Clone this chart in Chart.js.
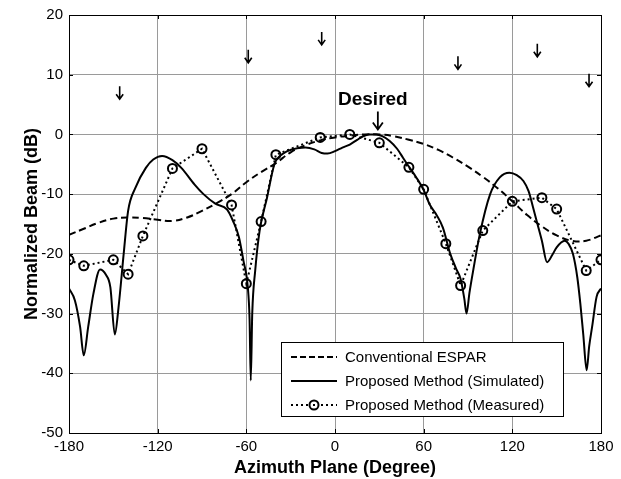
<!DOCTYPE html>
<html>
<head>
<meta charset="utf-8">
<script src="https://cdn.jsdelivr.net/npm/chart.js@4.4.1/dist/chart.umd.min.js"></script>
<style>
    body{
        margin:0;
        background:#fff;
    }
    #wrap{
        width:621px;
        height:479px;
    }
</style>
</head>
<body>
<div id="wrap"><canvas id="chartjs" width="621" height="479"></canvas></div>

<script>
// ---- data ----
var espAngles = [-180,-170,-160,-150,-140,-130,-120,-110,-100,-90,-80,-70,-60,-50,-40,-30,-20,-10,0,
                 10,20,30,40,50,60,70,80,90,100,110,120,130,140,150,160,170,180];
var espBeam   = [-16.8,-15.8,-14.8,-14.1,-13.9,-14.0,-14.3,-14.5,-13.9,-12.8,-11.5,-10.0,-8.0,-6.3,-4.8,-3.0,-1.8,-1.0,-0.5,
                 -0.2,0,0,-0.3,-0.9,-1.6,-2.6,-3.9,-5.4,-7.1,-9.0,-11.2,-13.5,-15.4,-16.9,-17.8,-17.8,-16.9];

var simAngles = [-180,-176,-172.5,-170,-167,-163.5,-159,-155,-152,-149,-146.5,-143,-140,-135,-128,-123,-117,-110,-104,
                 -95,-89,-81,-73,-69,-65,-62,-59,-57.8,-57,-56,-54,-51,-46,-41,-35,-29,-20,-14,-9,-5,
                 0,5,10,15,19,23,28,32,37,42,46,50,55,60,64,69,73,78,82,85,87.5,89,91,93.5,98,105,111.5,
                 118,123,127.5,131,134,137,140,143.5,147,150,155.5,158,161,164,166,168,170.3,172,174,177,180];
var simBeam   = [-25.8,-27.8,-32.2,-37.0,-32.2,-26.7,-22.6,-23.5,-25.6,-33.5,-29.0,-20.0,-12.8,-8.9,-5.6,-4.2,-3.6,-4.3,-5.6,
                 -8.4,-10.0,-11.6,-12.6,-14.5,-17.2,-21.1,-25.6,-31.0,-41.2,-30.0,-22.8,-16.1,-10.6,-5.0,-3.2,-2.5,-2.2,-2.5,-3.1,-3.2,
                 -2.8,-2.2,-1.7,-0.9,-0.3,0,0,-0.3,-1.1,-2.4,-3.9,-5.4,-7.2,-9.3,-11.7,-13.6,-15.6,-20.0,-22.5,-24.2,-27.5,-30.0,-26.5,-22.8,-16.7,-10.0,-7.2,
                 -6.4,-6.8,-7.8,-9.5,-12.2,-15.0,-17.8,-21.4,-20.2,-18.9,-17.8,-18.3,-20.0,-24.0,-28.3,-33.5,-39.5,-35.5,-32.2,-27.2,-25.8];

var measAngles = [-180,-170,-150,-140,-130,-110,-90,-70,-60,-50,-40,-10,10,30,50,60,75,85,100,120,140,150,170,180];
var measBeam   = [-21.0,-22.0,-21.0,-23.4,-17.0,-5.7,-2.4,-11.8,-25.0,-14.6,-3.4,-0.5,0,-1.4,-5.5,-9.2,-18.3,-25.3,-16.1,-11.2,-10.6,-12.5,-22.8,-21.0];

// null directions marked with arrows (angle, level of arrow centre in dB)
var nullAngles = [-145.7,-58.7,-9.0,83.2,136.9,171.9];
var nullLevels = [6.9,13.0,16.0,11.9,14.0,9.0];
var desiredAngle = 29;
var desiredLevel = 0.5;   // arrow tip

var xTicks = [-180,-120,-60,0,60,120,180];
var yTicks = [-50,-40,-30,-20,-10,0,10,20];

var seriesNames = ["Conventional ESPAR","Proposed Method (Simulated)","Proposed Method (Measured)"];

function toXY(xs, ys){
    var out = [];
    for(var i=0;i<xs.length;i++){ out.push({x:xs[i], y:ys[i]}); }
    return out;
}

var FONT = "'Liberation Sans', Arial, sans-serif";

// arrows, "Desired", box, inner ticks and legend
var overlay = {
    id: 'overlay',
    afterDatasetsDraw: function(chart){
        var ctx = chart.ctx, sx = chart.scales.x, sy = chart.scales.y, a = chart.chartArea;
        ctx.save();

        // axes box + MATLAB style inward ticks
        ctx.strokeStyle = '#000';
        ctx.lineWidth = 1;
        ctx.strokeRect(Math.round(a.left)+0.5, Math.round(a.top)+0.5, Math.round(a.right-a.left), Math.round(a.bottom-a.top));
        ctx.beginPath();
        xTicks.forEach(function(v){
            var px = Math.round(sx.getPixelForValue(v))+0.5;
            ctx.moveTo(px, a.bottom); ctx.lineTo(px, a.bottom-4);
            ctx.moveTo(px, a.top); ctx.lineTo(px, a.top+4);
        });
        yTicks.forEach(function(v){
            var py = Math.round(sy.getPixelForValue(v))+0.5;
            ctx.moveTo(a.left, py); ctx.lineTo(a.left+4, py);
            ctx.moveTo(a.right, py); ctx.lineTo(a.right-4, py);
        });
        ctx.stroke();

        // null arrows
        function arrow(px, top, bottom, hw, hh, lw){
            ctx.lineWidth = lw;
            ctx.beginPath();
            ctx.moveTo(px, top); ctx.lineTo(px, bottom);
            ctx.moveTo(px-hw, bottom-hh); ctx.lineTo(px, bottom); ctx.lineTo(px+hw, bottom-hh);
            ctx.stroke();
        }
        for(var i=0;i<nullAngles.length;i++){
            var px = sx.getPixelForValue(nullAngles[i]);
            var py = sy.getPixelForValue(nullLevels[i]);
            arrow(px, py-7, py+6, 3.5, 5, 1.6);
        }

        // desired direction
        var dx = sx.getPixelForValue(desiredAngle);
        var dy = sy.getPixelForValue(desiredLevel);
        arrow(dx, dy-20, dy-2, 5, 7, 1.8);
        ctx.fillStyle = '#000';
        ctx.font = "bold 19px " + FONT;
        ctx.textAlign = 'center';
        ctx.textBaseline = 'alphabetic';
        ctx.fillText("Desired", dx-5, dy-26);

        // legend box
        var lx = 281, ly = 342, lw = 282, lh = 74;
        ctx.fillStyle = '#fff';
        ctx.fillRect(lx, ly, lw, lh);
        ctx.lineWidth = 1;
        ctx.strokeStyle = '#000';
        ctx.strokeRect(lx+0.5, ly+0.5, lw, lh);
        var rows = [357, 381, 405];
        var dashes = [[6,3],[],[2,3]];
        ctx.font = "15px " + FONT;
        ctx.textAlign = 'left';
        ctx.textBaseline = 'middle';
        for(var r=0;r<3;r++){
            ctx.setLineDash(dashes[r]);
            ctx.lineWidth = 2;
            ctx.beginPath();
            ctx.moveTo(291, rows[r]); ctx.lineTo(337, rows[r]);
            ctx.stroke();
            ctx.setLineDash([]);
            if(r == 2){
                ctx.fillStyle = '#fff';
                ctx.beginPath();
                ctx.arc(314, rows[r], 4.5, 0, Math.PI*2);
                ctx.fill();
                ctx.stroke();
                ctx.fillStyle = '#000';
                ctx.fillRect(313, rows[r]-1, 2, 2);
            }
            ctx.fillStyle = '#000';
            ctx.fillText(seriesNames[r], 345, rows[r]+1);
        }
        ctx.restore();
    }
};

var graph = new Chart(document.getElementById("chartjs"), {
    type: 'line',
    data: {
        datasets: [
            {
                label: seriesNames[0],
                data: toXY(espAngles, espBeam),
                borderColor: '#000',
                borderWidth: 2,
                borderDash: [7,4],
                pointRadius: 0,
                fill: false,
                tension: 0.4
            },
            {
                label: seriesNames[1],
                data: toXY(simAngles, simBeam),
                borderColor: '#000',
                borderWidth: 2,
                pointRadius: 0,
                fill: false,
                cubicInterpolationMode: 'monotone'
            },
            {
                label: seriesNames[2],
                data: toXY(measAngles, measBeam),
                borderColor: '#000',
                borderWidth: 2,
                borderDash: [2,3],
                pointRadius: 4.5,
                pointBorderWidth: 2,
                pointBorderColor: '#000',
                pointBackgroundColor: 'rgba(0,0,0,0)',
                fill: false,
                tension: 0
            }
        ]
    },
    options: {
        responsive: false,
        animation: false,
        layout: { padding: { top: 13, right: 20, left: 0, bottom: 0 } },
        plugins: {
            legend: { display: false },
            tooltip: { enabled: false }
        },
        scales: {
            x: {
                type: 'linear',
                min: -180,
                max: 180,
                afterFit: function(s){ s.height = 46; },
                afterBuildTicks: function(s){ s.ticks = xTicks.map(function(v){ return {value:v}; }); },
                grid: { color: '#9a9a9a', lineWidth: 1, drawTicks: false },
                border: { display: false },
                ticks: { color: '#000', padding: 5, maxRotation: 0, font: { family: FONT, size: 15 } },
                title: { display: true, text: 'Azimuth Plane (Degree)', color: '#000',
                         padding: { top: 0, bottom: 0 }, font: { family: FONT, size: 18, weight: 'bold' } }
            },
            y: {
                type: 'linear',
                min: -50,
                max: 20,
                afterFit: function(s){ s.width = 69; },
                afterBuildTicks: function(s){ s.ticks = yTicks.map(function(v){ return {value:v}; }); },
                grid: { color: '#9a9a9a', lineWidth: 1, drawTicks: false },
                border: { display: false },
                ticks: { color: '#000', padding: 6, font: { family: FONT, size: 15 } },
                title: { display: true, text: 'Normalized Beam (dB)', color: '#000',
                         padding: { top: 21, bottom: 0 }, font: { family: FONT, size: 18, weight: 'bold' } }
            }
        }
    },
    plugins: [overlay]
});
</script>
</body>
</html>
